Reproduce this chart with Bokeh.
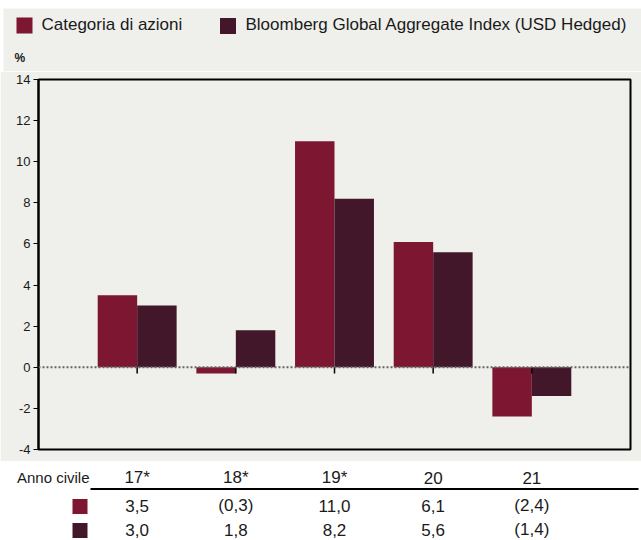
from bokeh.plotting import figure
from bokeh.models import Range1d, FixedTicker, Span, ColumnDataSource
from bokeh.layouts import column
from bokeh.embed import file_html
from bokeh.resources import INLINE
from bokeh.core.properties import value

# ---- data ----
years = ["17*", "18*", "19*", "20", "21"]
series_names = ["Categoria di azioni", "Bloomberg Global Aggregate Index (USD Hedged)"]
fund_returns = [3.5, -0.3, 11.0, 6.1, -2.4]
index_returns = [3.0, 1.8, 8.2, 5.6, -1.4]
y_ticks = [-4, -2, 0, 2, 4, 6, 8, 10, 12, 14]
row_label = "Anno civile"
unit_label = "%"

colors = ["#7c1631", "#43172a"]
BG = "#efefeb"
TXT = "#1a1a1a"
W = 641
FONT = "Liberation Sans"


def fmt(v):
    s = f"{abs(v):.1f}".replace(".", ",")
    return f"({s})" if v < 0 else s


xs = list(range(1, len(years) + 1))

# ---- header (legend + unit) ----
HH = 71
hdr = figure(width=W, height=HH, output_backend="svg", toolbar_location=None,
             x_range=Range1d(0, W), y_range=Range1d(HH, 0),
             min_border=0, background_fill_color="white", border_fill_color="white",
             outline_line_color=None)
hdr.frame_align = False
hdr.xaxis.visible = False
hdr.yaxis.visible = False
hdr.grid.visible = False
hdr.quad(left=[3], right=[W], top=[8], bottom=[HH], fill_color=BG, line_color=None)
leg = ColumnDataSource(dict(x=[24, 227.5], y=[25, 25.5], tx=[41, 245], ty=[23.5, 24],
                            name=series_names, c=colors))
hdr.rect(x="x", y="y", width=16, height=16, width_units="screen", height_units="screen",
         fill_color="c", line_color=None, source=leg)
hdr.text(x="tx", y="ty", text="name", source=leg, text_font=value(FONT),
         text_font_size="17px", text_baseline="middle", text_color=TXT)
hdr.text(x=[14], y=[57], text=[unit_label], text_font=value(FONT), text_font_size="12px",
         text_baseline="middle", text_color=TXT, text_font_style="bold")

# ---- chart ----
p = figure(width=W, height=390, output_backend="svg", toolbar_location=None,
           x_range=Range1d(0, 6), y_range=Range1d(-4, 14),
           min_border_left=38, min_border_right=11, min_border_top=8, min_border_bottom=12,
           background_fill_color=BG, border_fill_color=BG,
           outline_line_color="black", outline_line_width=2)
p.frame_align = False
p.grid.visible = False
p.xaxis.visible = False
p.vbar(x=[x - 0.2 for x in xs], top=fund_returns, bottom=0, width=0.4,
       fill_color=colors[0], line_color=None)
p.vbar(x=[x + 0.2 for x in xs], top=index_returns, bottom=0, width=0.4,
       fill_color=colors[1], line_color=None)
p.add_layout(Span(location=0, dimension="width", line_color="#666666",
                  line_width=2, line_dash="2 2"))
p.segment(x0=xs, y0=[0] * len(xs), x1=xs, y1=[-0.3] * len(xs),
          line_color="black", line_width=1.5)
ya = p.yaxis[0]
ya.ticker = FixedTicker(ticks=y_ticks)
ya.major_label_overrides = {t: str(t) for t in y_ticks}
ya.axis_line_color = "black"
ya.axis_line_width = 2
ya.major_tick_out = 5
ya.major_tick_in = 0
ya.minor_tick_line_color = None
ya.major_tick_line_color = "black"
ya.major_label_text_font = FONT
ya.major_label_text_font_size = "13px"
ya.major_label_text_color = TXT
ya.major_label_standoff = 3

# ---- table ----
TH = 79
px_per_unit = (W - 38 - 11) / 6.0
t_start = -38 / px_per_unit
t_end = t_start + W / px_per_unit
tb = figure(width=W, height=TH, output_backend="svg", toolbar_location=None,
            x_range=Range1d(t_start, t_end), y_range=Range1d(TH, 0),
            min_border=0, background_fill_color="white", border_fill_color="white",
            outline_line_color=None)
tb.frame_align = False
tb.xaxis.visible = False
tb.yaxis.visible = False
tb.grid.visible = False
lab_x = t_start + 89 / px_per_unit
sq_x = t_start + 79.5 / px_per_unit
line_x0 = t_start + 90 / px_per_unit
line_x1 = t_start + 638 / px_per_unit
tstyle = dict(text_font=value(FONT), text_baseline="middle", text_color=TXT)
tb.text(x=[lab_x], y=[16], text=[row_label], text_align="right", text_font_size="15px", **tstyle)
tb.text(x=xs, y=[16] * len(xs), text=years, text_align="center", text_font_size="17px", **tstyle)
tb.segment(x0=[line_x0], y0=[27.5], x1=[line_x1], y1=[27.5],
           line_color="black", line_width=2)
tb.text(x=xs, y=[44] * len(xs), text=[fmt(v) for v in fund_returns], text_align="center",
        text_font_size="17px", **tstyle)
tb.text(x=xs, y=[68] * len(xs), text=[fmt(v) for v in index_returns], text_align="center",
        text_font_size="17px", **tstyle)
tb.rect(x=[sq_x, sq_x], y=[45, 69], width=15, height=15, width_units="screen",
        height_units="screen", fill_color=colors, line_color=None)

layout = column(hdr, p, tb, spacing=0)
open("out.html", "w").write(file_html(layout, INLINE))
